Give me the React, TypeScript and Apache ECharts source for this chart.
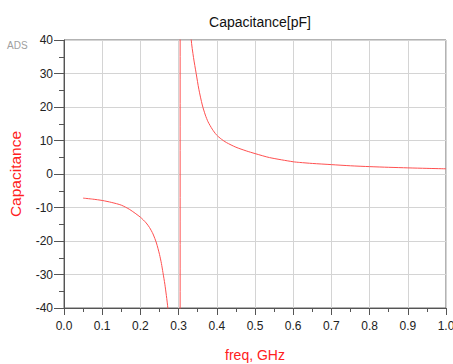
import React, { useEffect, useRef } from "react";
import * as echarts from "echarts";

// frequency (GHz) and capacitance (pF); values beyond ±40 lie off-chart (clipped)
const freq = [
  0.05, 0.075, 0.1, 0.125, 0.15, 0.172, 0.2, 0.215, 0.224, 0.233, 0.242, 0.25, 0.255, 0.259, 0.264, 0.268, 0.272,
  0.28, 0.29, 0.304, 0.304, 0.31, 0.32, 0.326, 0.333, 0.339, 0.346, 0.353, 0.362, 0.37, 0.377, 0.388, 0.399,
  0.412, 0.425, 0.45, 0.477, 0.5, 0.538, 0.6, 0.617, 0.65, 0.7, 0.75, 0.8, 0.85, 0.9, 0.95, 1.0,
];
const capacitance = [
  -7.2, -7.5, -7.9, -8.5, -9.3, -10.6, -12.9, -14.6, -16.0, -17.9, -20.6, -24.0, -26.7, -29.4, -32.9, -36.3, -40.2,
  -55, -90, -300, 300, 200, 76, 55, 40.1, 34.8, 30.0, 25.3, 20.6, 17.6, 15.6, 13.4, 11.7,
  10.4, 9.4, 8.0, 6.9, 6.1, 4.9, 3.65, 3.45, 3.15, 2.8, 2.45, 2.2, 2.0, 1.83, 1.68, 1.55,
];
const xTicks = { min: 0, max: 1, interval: 0.1 };
const yTicks = { min: -40, max: 40, interval: 10 };

const FONT = "Liberation Sans, Arial, sans-serif";

export default function App() {
  const ref = useRef<HTMLDivElement>(null);
  useEffect(() => {
    if (!ref.current) return;
    const chart = echarts.init(ref.current, undefined, { renderer: "svg" });
    const data = freq.map((f, i) => [f, capacitance[i]]);
    chart.setOption({
      animation: false,
      backgroundColor: "#ffffff",
      textStyle: { fontFamily: FONT },
      title: {
        text: "Capacitance[pF]",
        left: 255,
        textAlign: "center",
        top: 10,
        textStyle: { fontFamily: FONT, fontSize: 14, fontWeight: "normal", color: "#111" },
      },
      graphic: [
        {
          type: "text",
          left: 7,
          top: 40,
          style: { text: "ADS", fill: "#a0a0a0", font: `10px ${FONT}` },
        },
      ],
      grid: {
        left: 64,
        right: 7,
        top: 40,
        bottom: 56,
        show: true,
        borderColor: "#666",
        borderWidth: 1,
        backgroundColor: "transparent",
        containLabel: false,
        outerBoundsMode: "none",
      },
      xAxis: {
        type: "value",
        min: xTicks.min,
        max: xTicks.max,
        interval: xTicks.interval,
        name: "freq, GHz",
        nameLocation: "middle",
        nameGap: 40,
        nameTextStyle: { color: "#ff2020", fontSize: 14, fontFamily: FONT },
        axisLine: { onZero: false, lineStyle: { color: "#555", width: 1 } },
        axisTick: { show: true, length: 7, lineStyle: { color: "#555" } },
        minorTick: { show: true, splitNumber: 2, length: 4, lineStyle: { color: "#555" } },
        axisLabel: {
          margin: 12,
          fontSize: 12,
          color: "#222",
          fontFamily: FONT,
          formatter: (v: number) => v.toFixed(1),
        },
        splitLine: { show: true, lineStyle: { color: "#d4d4d4", width: 1 } },
      },
      yAxis: {
        type: "value",
        min: yTicks.min,
        max: yTicks.max,
        interval: yTicks.interval,
        name: "Capacitance",
        nameLocation: "middle",
        nameGap: 41,
        nameTextStyle: { color: "#ff2020", fontSize: 15.5, fontFamily: FONT },
        axisLine: { show: true, onZero: false, lineStyle: { color: "#555", width: 1 } },
        axisTick: { show: true, length: 10, lineStyle: { color: "#555" } },
        minorTick: { show: true, splitNumber: 2, length: 5, lineStyle: { color: "#555" } },
        axisLabel: { margin: 11, fontSize: 12, color: "#222", fontFamily: FONT },
        splitLine: { show: true, lineStyle: { color: "#d4d4d4", width: 1 } },
      },
      series: [
        {
          type: "line",
          data,
          showSymbol: false,
          symbol: "none",
          clip: true,
          smooth: 0.25,
          lineStyle: { color: "#ff5050", width: 1, join: "round" },
        },
      ],
    });
    return () => chart.dispose();
  }, []);
  return <div ref={ref} style={{ position: "fixed", left: 0, top: 0, width: 453, height: 364 }} />;
}
